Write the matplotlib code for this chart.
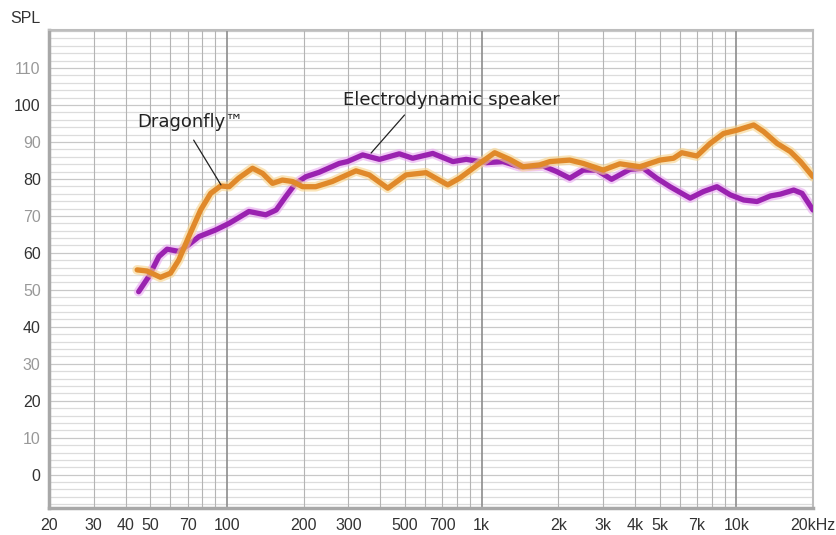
import matplotlib
matplotlib.use('Agg')
import matplotlib.pyplot as plt

# frequency response (Hz, dB SPL)
edyn_freq = [45, 49.3, 54, 58.2, 64.7, 69.8, 77.6, 90.2, 102, 122, 142, 156, 170, 186,
             204, 230, 276, 297, 341, 397, 475, 536, 643, 771, 870, 982, 1043, 1213,
             1410, 1545, 1744, 1969, 2218, 2506, 2828, 3237, 3820, 4315, 4870, 5495,
             6590, 7430, 8390, 9470, 10690, 12060, 13610, 14900, 16800, 18120, 20000]
edyn_spl = [49.5, 53.6, 59.0, 61.0, 60.4, 61.9, 64.4, 66.2, 68.0, 71.2, 70.3, 71.6,
            75.2, 78.8, 80.6, 81.8, 84.2, 84.7, 86.5, 85.3, 86.8, 85.6, 86.9, 84.7,
            85.3, 84.7, 84.4, 84.7, 83.3, 83.3, 83.5, 82.0, 80.2, 82.4, 82.4, 79.9,
            82.6, 82.9, 80.2, 77.9, 74.8, 76.6, 77.9, 75.7, 74.3, 73.9, 75.4, 75.9,
            77.0, 76.1, 71.6]

dfly_freq = [44.4, 48.5, 54.8, 60, 64.7, 70.8, 78.8, 86.3, 94.4, 102, 111, 126, 138,
             151, 165, 181, 198, 223, 259, 321, 362, 428, 505, 605, 736, 819, 982,
             1125, 1289, 1453, 1690, 1853, 2218, 2506, 3000, 3491, 4180, 5010, 5670,
             6110, 7000, 7890, 8910, 10070, 11700, 12800, 14460, 16300, 17860, 20000]
dfly_spl = [55.4, 55.1, 53.4, 54.5, 58.1, 64.4, 71.6, 76.1, 78.1, 77.9, 80.2, 82.9,
            81.5, 78.8, 79.7, 79.3, 77.9, 77.9, 79.3, 82.2, 81.1, 77.5, 81.1, 81.7,
            78.4, 80.2, 84.2, 87.1, 85.3, 83.3, 83.8, 84.7, 85.1, 84.2, 82.4, 84.1,
            83.3, 85.1, 85.6, 87.1, 86.2, 89.6, 92.3, 93.2, 94.6, 92.8, 89.6, 87.4,
            84.7, 80.6]

xticks = [20, 30, 40, 50, 70, 100, 200, 300, 500, 700, 1000, 2000, 3000, 4000, 5000,
          7000, 10000, 20000]
xlabels = ['20', '30', '40', '50', '70', '100', '200', '300', '500', '700', '1k', '2k',
           '3k', '4k', '5k', '7k', '10k', '20kHz']
yticks = [0, 10, 20, 30, 40, 50, 60, 70, 80, 90, 100, 110]

plt.rcParams['font.family'] = ['Liberation Sans', 'DejaVu Sans']

fig = plt.figure(figsize=(8.37, 5.35), dpi=100)
ax = fig.add_axes([0.0585, 0.0505, 0.9128, 0.8935])
ax.set_xscale('log')
ax.set_xlim(20, 20000)
ax.set_ylim(-9, 120.3)

# grid: fine horizontal every 2 dB, vertical at 1-2-...-9 steps
for y in range(-8, 121, 2):
    ax.axhline(y, color='#c8c8c8' if y % 10 == 0 else '#dcdcdc', lw=0.9, zorder=0)
for dec in [10, 100, 1000, 10000]:
    for m in range(1, 10):
        f = dec * m
        if 20 < f < 20000:
            ax.axvline(f, color='#8c8c8c' if m == 1 else '#b4b4b4',
                       lw=1.2 if m == 1 else 0.8, zorder=0)

# curves with a soft halo
style = dict(solid_capstyle='round', solid_joinstyle='round')
ax.plot(edyn_freq, edyn_spl, color='#e8a8f0', lw=7, alpha=0.6, zorder=2, **style)
ax.plot(edyn_freq, edyn_spl, color='#9a22b0', lw=3.8, zorder=3, **style)
ax.plot(dfly_freq, dfly_spl, color='#f7d38a', lw=7, alpha=0.6, zorder=4, **style)
ax.plot(dfly_freq, dfly_spl, color='#e0892a', lw=3.8, zorder=5, **style)

# labels with leader lines
lead = dict(arrowstyle='-', color='#222222', lw=0.9, shrinkA=0, shrinkB=0)
ax.text(72, 95.4, 'Dragonfly™', fontsize=13, color='#222222', ha='center',
        va='center', family=['DejaVu Sans'], zorder=6)
ax.annotate('', xy=(94.7, 78.4), xytext=(74, 90.5), arrowprops=lead, zorder=6)
ax.text(762, 101.4, 'Electrodynamic speaker', fontsize=13, color='#222222',
        ha='center', va='center', family=['DejaVu Sans'], zorder=6)
ax.annotate('', xy=(368, 87), xytext=(498, 97.3), arrowprops=lead, zorder=6)

ax.set_xticks(xticks)
ax.set_xticklabels(xlabels)
ax.minorticks_off()
ax.set_yticks(yticks)
ax.set_yticklabels([str(v) for v in yticks])
for v, lab in zip(yticks, ax.get_yticklabels()):
    lab.set_color('#333333' if v % 20 == 0 else '#999999')
for lab in ax.get_xticklabels():
    lab.set_color('#333333')
ax.tick_params(length=0, labelsize=11.5)
ax.tick_params(axis='x', pad=7)
ax.tick_params(axis='y', pad=6)

for side in ['left', 'bottom']:
    ax.spines[side].set_color('#a8a8a8')
    ax.spines[side].set_linewidth(2.5)
for side in ['top', 'right']:
    ax.spines[side].set_color('#bdbdbd')
    ax.spines[side].set_linewidth(1.5)

fig.text(0.012, 0.966, 'SPL', fontsize=11.5, color='#333333', va='center')

fig.savefig('out.png', dpi=100)
